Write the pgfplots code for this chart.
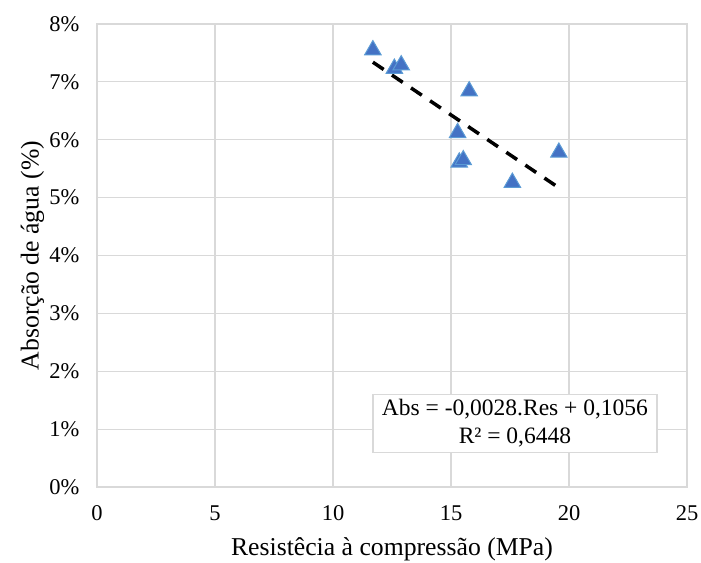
\documentclass[border=0pt]{standalone}
\usepackage{pgfplots}
\pgfplotsset{compat=1.18}
\usepackage{fontspec}
\setmainfont{Liberation Serif}
\definecolor{gridc}{HTML}{D9D9D9}
\definecolor{markf}{HTML}{4472C4}
\definecolor{marke}{HTML}{5B9BD5}
\begin{document}
\fontsize{22.5}{27}\selectfont
\begin{tikzpicture}
\begin{axis}[
  scale only axis,
  width=590pt, height=463pt,
  xmin=0, xmax=25, ymin=0, ymax=8,
  xtick={0,5,...,25}, ytick={0,1,...,8},
  yticklabel={\pgfmathprintnumber{\tick}\%},
  /pgf/number format/assume math mode=true,
  ticklabel style={font=\fontsize{22.5}{27}\selectfont},
  yticklabel style={xshift=-10pt},
  xticklabel style={yshift=-11pt, inner xsep=0pt},
  label style={font=\fontsize{25.7}{30}\selectfont, inner sep=0.5pt},
  grid=major,
  major grid style={gridc, line width=1.2pt},
  axis line style={gridc, line width=1.2pt},
  tick style={draw=none},
  xlabel={Resistêcia à compressão (MPa)},
  ylabel={Absorção de água (\%)},
  xlabel style={yshift=-8.5pt},
  ylabel style={yshift=-3pt},
  clip=false,
]
\addplot[only marks, mark=triangle*, mark size=9.5pt,
  mark options={fill=markf, draw=marke, line width=1pt}]
  coordinates {
  (11.69,7.55) (12.60,7.23) (12.89,7.29) (15.77,6.84) (15.28,6.12)
  (15.35,5.61) (15.52,5.65) (17.60,5.26) (19.57,5.78)
  };
\addplot[black, line width=3.5pt, dash pattern=on 13pt off 10pt]
  coordinates {(11.69,7.34) (19.57,5.17)};
\node[draw=gridc, fill=white, line width=1.2pt, align=center,
  inner xsep=9pt, inner ysep=5pt, font=\fontsize{23.5}{28}\selectfont]
  at (axis cs:17.71,1.10) {Abs = -0,0028.Res + 0,1056\\R² = 0,6448};
\draw[draw=none] (rel axis cs:0,1) -- ++(-97pt,24pt);
\draw[draw=none] (rel axis cs:1,0) -- ++(14pt,-76pt);
\end{axis}
\end{tikzpicture}
\end{document}
